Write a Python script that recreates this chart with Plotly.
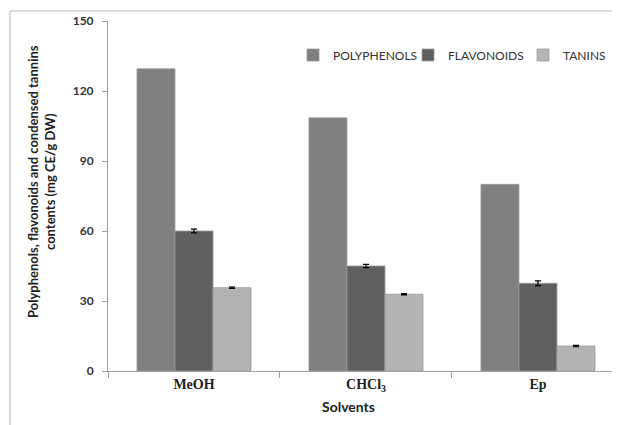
import plotly.graph_objects as go

solvents = ["MeOH", "CHCl3", "Ep"]
solvent_labels = ["MeOH", "CHCl<sub>3</sub>", "Ep"]
series_names = ["POLYPHENOLS", "FLAVONOIDS", "TANINS"]
polyphenols = [129.5, 108.5, 80.0]
flavonoids = [60.0, 45.0, 37.6]
flavonoids_err = [0.8, 0.7, 1.0]
tanins = [35.7, 32.9, 10.7]
tanins_err = [0.3, 0.3, 0.3]
y_ticks = [0, 30, 60, 90, 120, 150]

colors = ["#808080", "#606060", "#b4b4b4"]
values = [polyphenols, flavonoids, tanins]
errors = [None, flavonoids_err, tanins_err]

fig = go.Figure()
for name, vals, errs, col in zip(series_names, values, errors, colors):
    err = (dict(type="data", array=errs, visible=True, color="black", thickness=1.2, width=3)
           if errs is not None else dict(visible=False))
    fig.add_trace(go.Bar(
        name=name, x=solvents, y=vals,
        marker=dict(color=col, line=dict(color="#9a9a9a", width=0.8)),
        error_y=err,
    ))

# page has an 8px body offset; figure coordinates = reference - 8
OFF = 8
W, H = 612, 417
L, R, T, B = 108 - OFF, 620 - OFF, 21 - OFF, 371 - OFF

def px(xp):
    return (xp - OFF - L) / (R - L)

def py(yp):
    return (B - (yp - OFF)) / (B - T)

fig.update_layout(
    width=W, height=H,
    margin=dict(l=L, r=W - R, t=T, b=H - B, autoexpand=False),
    paper_bgcolor="white", plot_bgcolor="white",
    barmode="group", bargap=0.337, bargroupgap=0,
    showlegend=True,
    legend=dict(orientation="h", x=px(293), y=py(55), xanchor="left", yanchor="middle",
                font=dict(family="Lato", size=12, color="#333333"),
                itemwidth=30, entrywidth=70, bgcolor="rgba(0,0,0,0)"),
    xaxis=dict(range=[-0.5, 2.477], tickmode="array", tickvals=solvents,
               ticktext=solvent_labels, tickson="boundaries", ticks="outside",
               ticklen=6, tickcolor="#a0a0a0", showline=True, linecolor="#a0a0a0",
               linewidth=1, showgrid=False, zeroline=False,
               tickfont=dict(family="Liberation Serif", size=14, color="#222222", weight="bold"),
               ),
    yaxis=dict(range=[0, 150], tickvals=y_ticks, ticks="outside", ticklen=5,
               tickcolor="#a0a0a0", showline=True, linecolor="#a0a0a0", linewidth=1,
               showgrid=False, zeroline=False,
               tickfont=dict(family="Lato", size=12, color="#333333", weight="bold"),
               ticklabelstandoff=6),
)

fig.add_annotation(text="<b>Solvents</b>", x=px(348), y=py(406), xref="paper", yref="paper",
                   showarrow=False, font=dict(family="Lato", size=14, color="#222222"),
                   xanchor="center", yanchor="middle")
fig.add_annotation(text="<b>Polyphenols, flavonoids and condensed tannins<br>contents (mg CE/g DW)</b>",
                   x=px(41), y=py(182), xref="paper", yref="paper", textangle=-90,
                   showarrow=False, font=dict(family="Lato", size=13, color="#222222"),
                   xanchor="center", yanchor="middle")
# chart frame (left and top edges)
fig.add_shape(type="line", xref="paper", yref="paper", x0=px(10), x1=px(10), y0=py(11), y1=py(430),
              line=dict(color="#b8b8b8", width=1))
fig.add_shape(type="line", xref="paper", yref="paper", x0=px(10), x1=px(630), y0=py(11), y1=py(11),
              line=dict(color="#b8b8b8", width=1))

fig.write_html("out.html")
